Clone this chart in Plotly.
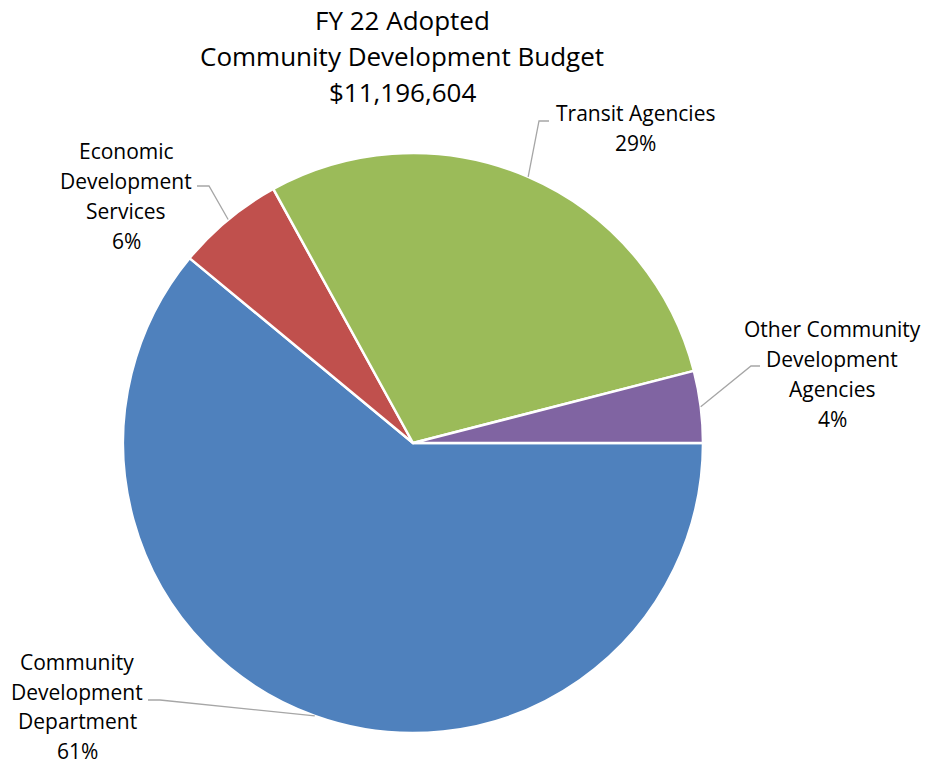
import math
import plotly.graph_objects as go

# Budget shares (percent of total), listed clockwise from 3 o'clock
categories = [
    "Community Development Department",
    "Economic Development Services",
    "Transit Agencies",
    "Other Community Development Agencies",
]
label_lines = [
    ["Community", "Development", "Department"],
    ["Economic", "Development", "Services"],
    ["Transit Agencies"],
    ["Other Community", "Development", "Agencies"],
]
shares = [61, 6, 29, 4]
colors = ["#4F81BD", "#C0504D", "#9BBB59", "#8064A2"]
title_lines = ["FY 22 Adopted", "Community Development Budget", "$11,196,604"]

W, H = 927, 765
CX, CY, R = 413, 443, 290
FONT = "Open Sans"


def px(x):
    return x / W


def py(y):
    return 1 - y / H


fig = go.Figure(
    go.Pie(
        labels=categories,
        values=shares,
        sort=False,
        direction="clockwise",
        rotation=90,
        marker=dict(colors=colors, line=dict(color="white", width=2.5)),
        textinfo="none",
        hoverinfo="label+percent",
        showlegend=False,
        domain=dict(x=[px(CX - R), px(CX + R)], y=[py(CY + R), py(CY - R)]),
    )
)

annotations = []
shapes = []

# title lines
for i, t in enumerate(title_lines):
    annotations.append(dict(
        x=px(402), y=py(20 + 36 * i), xref="paper", yref="paper",
        text=t, showarrow=False, xanchor="center", yanchor="middle",
        font=dict(family=FONT, size=26, color="#000000"),
    ))

# label block centre-x, first line y, line gap, leader start and elbow (pixels)
label_pos = [
    (77, 662, 29.5, (148, 700), (160, 700)),
    (126, 151, 30, (197, 186), (209, 186)),
    (635, 113, 30, (549, 121), (539, 121)),
    (832, 329, 30, (760, 366), (751, 366)),
]

total = sum(shares)
cum = 0.0
for lines, v, (lx, ly, gap, p0, p1) in zip(label_lines, shares, label_pos):
    mid = -(cum + v / 2) / total * 2 * math.pi
    cum += v
    ex = CX + R * math.cos(mid)
    ey = CY - R * math.sin(mid)
    texts = lines + [f"{round(v / total * 100)}%"]
    for j, t in enumerate(texts):
        annotations.append(dict(
            x=px(lx), y=py(ly + gap * j), xref="paper", yref="paper",
            text=t, showarrow=False, xanchor="center", yanchor="middle",
            font=dict(family=FONT, size=21, color="#000000"),
        ))
    path = f"M {px(p0[0])},{py(p0[1])} L {px(p1[0])},{py(p1[1])} L {px(ex)},{py(ey)}"
    shapes.append(dict(
        type="path", xref="paper", yref="paper", path=path,
        line=dict(color="#A6A6A6", width=1.3),
    ))

fig.update_layout(
    width=W, height=H,
    margin=dict(l=0, r=0, t=0, b=0),
    paper_bgcolor="white",
    plot_bgcolor="white",
    annotations=annotations,
    shapes=shapes,
)

fig.write_html("out.html")
